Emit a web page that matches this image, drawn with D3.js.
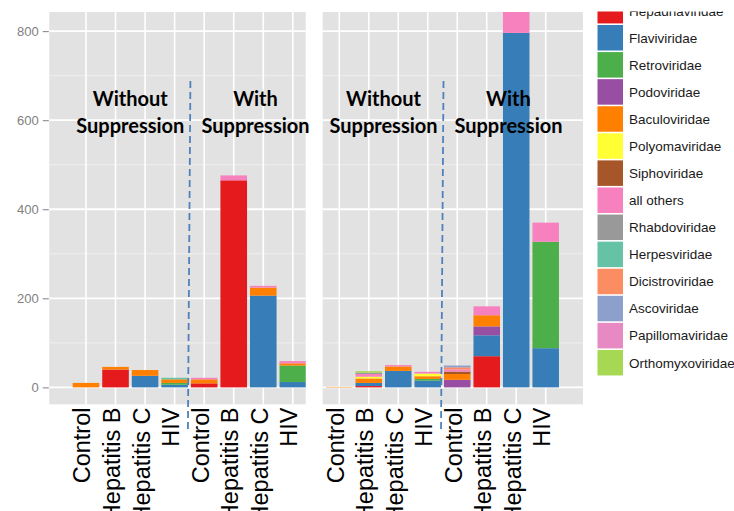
<!DOCTYPE html>
<html>
<head>
<meta charset="utf-8">
<script src="https://cdn.jsdelivr.net/npm/d3@7/dist/d3.min.js"></script>
<style>
  html, body { margin: 0; padding: 0; background: #ffffff; }
  svg { display: block; }
</style>
</head>
<body>
<svg id="chart" width="734" height="511"></svg>
<script>
// Virus families, in stacking / legend order
const families = [
  "Hepadnaviridae", "Flaviviridae", "Retroviridae", "Podoviridae",
  "Baculoviridae", "Polyomaviridae", "Siphoviridae", "all others",
  "Rhabdoviridae", "Herpesviridae", "Dicistroviridae", "Ascoviridae",
  "Papillomaviridae", "Orthomyxoviridae"
];
const familyColors = [
  "#E41A1C", "#377EB8", "#4DAF4A", "#984EA3",
  "#FF7F00", "#FFFF33", "#A65628", "#F781BF",
  "#999999", "#66C2A5", "#FC8D62", "#8DA0CB",
  "#E78AC3", "#A6D854"
];

// Sample groups along the x axis
const samples = ["Control", "Hepatitis B", "Hepatitis C", "HIV"];
const conditions = ["Without Suppression", "With Suppression"];
const conditionLines = [["Without", "Suppression"], ["With", "Suppression"]];

const yTicks = [0, 200, 400, 600, 800];
const yMinor = [100, 300, 500, 700];

// Read counts per family, one object per bar (without suppression x4, then with suppression x4)
const leftPanelCounts = [
  { "Baculoviridae": 10 },
  { "Hepadnaviridae": 40, "Baculoviridae": 6 },
  { "Flaviviridae": 26, "Baculoviridae": 13 },
  { "Flaviviridae": 6, "Retroviridae": 4, "Baculoviridae": 8, "Herpesviridae": 3.5 },
  { "Hepadnaviridae": 9, "Baculoviridae": 9, "all others": 3.5 },
  { "Hepadnaviridae": 465, "all others": 11 },
  { "Flaviviridae": 206, "Baculoviridae": 18, "all others": 4 },
  { "Flaviviridae": 12, "Retroviridae": 37, "Baculoviridae": 5, "all others": 5 }
];
const rightPanelCounts = [
  { "Baculoviridae": 1 },
  { "Hepadnaviridae": 3, "Flaviviridae": 7, "Baculoviridae": 10, "Polyomaviridae": 4,
    "all others": 6, "Rhabdoviridae": 3, "Orthomyxoviridae": 3.5 },
  { "Flaviviridae": 37, "Baculoviridae": 10, "all others": 3 },
  { "Flaviviridae": 15, "Retroviridae": 4, "Baculoviridae": 6, "Polyomaviridae": 6, "all others": 4 },
  { "Podoviridae": 17, "Baculoviridae": 13, "Siphoviridae": 5.5, "all others": 5,
    "Dicistroviridae": 4.5, "Ascoviridae": 4 },
  { "Hepadnaviridae": 70, "Flaviviridae": 47, "Podoviridae": 20, "Baculoviridae": 25, "all others": 20 },
  { "Flaviviridae": 796, "all others": 60 },
  { "Flaviviridae": 88, "Retroviridae": 239, "all others": 43 }
];

// ---- layout ----
const svg = d3.select("#chart");
const panelTop = 12, panelBottom = 404.3;
const panels = [
  { id: "p1", x0: 49.3, x1: 305.7, bandRange: [71.2, 307.6], counts: leftPanelCounts, withAxis: true },
  { id: "p2", x0: 322.7, x1: 583, bandRange: [324.55, 560.45], counts: rightPanelCounts, withAxis: false }
];

const y = d3.scaleLinear().domain([-38, 843]).range([panelBottom, panelTop]);
const color = d3.scaleOrdinal().domain(families).range(familyColors);

// bar keys: condition x sample
const barKeys = [];
conditions.forEach((c, ci) => samples.forEach(s => barKeys.push({ key: ci + "|" + s, condition: ci, sample: s })));

const stack = d3.stack().keys(families).value((d, k) => d[k] || 0);

const defs = svg.append("defs");

panels.forEach(p => {
  const x = d3.scaleBand()
    .domain(barKeys.map(b => b.key))
    .range(p.bandRange)
    .paddingInner(0.1)
    .paddingOuter(0.05);

  defs.append("clipPath").attr("id", "clip-" + p.id)
    .append("rect")
    .attr("x", p.x0).attr("y", panelTop)
    .attr("width", p.x1 - p.x0).attr("height", panelBottom - panelTop);

  const g = svg.append("g");

  // panel background
  g.append("rect")
    .attr("x", p.x0).attr("y", panelTop)
    .attr("width", p.x1 - p.x0).attr("height", panelBottom - panelTop)
    .attr("fill", "#E2E2E2");

  // minor grid
  g.selectAll("line.minor").data(yMinor).join("line")
    .attr("x1", p.x0).attr("x2", p.x1)
    .attr("y1", d => y(d)).attr("y2", d => y(d))
    .attr("stroke", "#F0F0F0").attr("stroke-width", 0.9);

  // major grid
  g.selectAll("line.major").data(yTicks).join("line")
    .attr("x1", p.x0).attr("x2", p.x1)
    .attr("y1", d => y(d)).attr("y2", d => y(d))
    .attr("stroke", "#FFFFFF").attr("stroke-width", 1.8);

  g.selectAll("line.vgrid").data(barKeys).join("line")
    .attr("x1", d => x(d.key) + x.bandwidth() / 2).attr("x2", d => x(d.key) + x.bandwidth() / 2)
    .attr("y1", panelTop).attr("y2", panelBottom)
    .attr("stroke", "#FFFFFF").attr("stroke-width", 1.6);

  // stacked bars
  const rows = p.counts.map((c, i) => Object.assign({ key: barKeys[i].key }, c));
  const series = stack(rows);
  const bars = g.append("g").attr("clip-path", "url(#clip-" + p.id + ")");
  bars.selectAll("g.series").data(series).join("g")
    .attr("fill", s => color(s.key))
    .selectAll("rect")
    .data(s => s.filter(d => d[1] - d[0] > 0))
    .join("rect")
    .attr("x", d => x(d.data.key))
    .attr("width", x.bandwidth())
    .attr("y", d => y(d[1]))
    .attr("height", d => y(d[0]) - y(d[1]));

  // y axis (left panel only)
  if (p.withAxis) {
    const axis = d3.axisLeft(y).tickValues(yTicks).tickSize(6).tickPadding(4);
    const ag = svg.append("g").attr("transform", `translate(${p.x0 - 0.5},0)`).call(axis);
    ag.select(".domain").remove();
    ag.selectAll(".tick line").attr("stroke", "#7F7F7F");
    ag.selectAll(".tick text")
      .attr("fill", "#7F7F7F")
      .style("font-family", "'Liberation Sans', Arial, sans-serif")
      .style("font-size", "13px");
  }

  // x tick labels, rotated; long names run past the bottom edge
  svg.append("g").selectAll("text").data(barKeys).join("text")
    .attr("transform", d => `translate(${x(d.key) + x.bandwidth() / 2},407.5) rotate(-90)`)
    .attr("y", 4.5)
    .attr("text-anchor", "end")
    .style("font-family", "'Liberation Sans', Arial, sans-serif")
    .style("font-size", "23.5px")
    .attr("fill", "#000")
    .text(d => d.sample);

  // divider between the two conditions
  const mid = (x(barKeys[3].key) + x(barKeys[4].key) + x.bandwidth()) / 2;
  svg.append("line")
    .attr("x1", mid + 1).attr("y1", 81)
    .attr("x2", mid - 1.5).attr("y2", 432)
    .attr("stroke", "#4F81BD").attr("stroke-width", 1.8)
    .attr("stroke-dasharray", "7,4");

  // condition annotations
  const centers = [
    (x(barKeys[1].key) + x(barKeys[2].key) + x.bandwidth()) / 2,
    (x(barKeys[5].key) + x(barKeys[6].key) + x.bandwidth()) / 2 + 7
  ];
  conditionLines.forEach((lines, ci) => {
    const t = svg.append("text")
      .attr("text-anchor", "middle")
      .style("font-family", "Lato, 'Open Sans', sans-serif")
      .style("font-weight", "700")
      .style("font-size", "20px")
      .attr("fill", "#000");
    lines.forEach((ln, li) => {
      t.append("tspan").attr("x", centers[ci]).attr("y", 106 + li * 27).text(ln);
    });
  });
});

// ---- legend ----
defs.append("clipPath").attr("id", "clip-legend")
  .append("rect").attr("x", 590).attr("y", 11.5).attr("width", 144).attr("height", 500);

const keyStep = 27.08, keyH = 25.5, keyTop0 = 25 - keyStep;
const legend = svg.append("g").attr("clip-path", "url(#clip-legend)");
const item = legend.selectAll("g").data(families).join("g")
  .attr("transform", (d, i) => `translate(597.5,${keyTop0 + i * keyStep})`);
item.append("rect")
  .attr("width", 25.5).attr("height", keyH)
  .attr("fill", d => color(d));
item.append("text")
  .attr("x", 31.5).attr("y", keyH / 2)
  .attr("dy", "0.36em")
  .style("font-family", "'Liberation Sans', Arial, sans-serif")
  .style("font-size", "13.5px")
  .attr("fill", "#1A1A1A")
  .text(d => d);
</script>
</body>
</html>
